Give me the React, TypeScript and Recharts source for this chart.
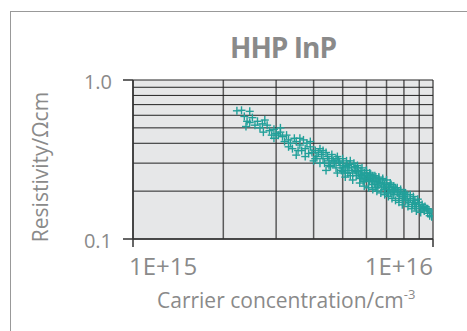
import { ScatterChart, Scatter, XAxis, YAxis, CartesianGrid } from 'recharts';

const title = "HHP InP";
const xLabel = "Carrier concentration/cm";
const yLabel = "Resistivity/Ωcm";

// carrier concentration (x 1e15 cm-3), resistivity (Ωcm)
const measurements: [number, number][] = [
    [2.22, 0.64], [2.30, 0.645], [2.45, 0.635], [2.35, 0.59], [2.40, 0.55], [2.38, 0.51],
    [2.45, 0.54], [2.55, 0.52], [2.65, 0.50], [2.70, 0.53], [2.75, 0.56], [2.80, 0.52],
    [2.72, 0.47], [2.85, 0.48], [2.95, 0.49], [3.00, 0.46], [3.05, 0.45], [3.15, 0.44],
    [3.10, 0.47], [3.25, 0.45], [3.30, 0.42], [3.35, 0.40], [3.45, 0.43], [3.50, 0.41],
    [3.40, 0.37], [3.60, 0.39], [3.65, 0.36], [3.70, 0.42], [3.80, 0.40], [3.75, 0.37],
    [3.90, 0.38], [3.95, 0.35], [4.05, 0.36], [4.10, 0.33], [4.00, 0.31], [4.20, 0.37],
    [4.25, 0.34], [4.30, 0.32], [4.40, 0.35], [4.45, 0.33], [4.50, 0.31], [4.35, 0.30],
    [4.55, 0.29], [4.60, 0.32], [4.70, 0.30], [4.75, 0.28], [4.80, 0.33], [4.85, 0.31],
    [4.90, 0.29], [4.95, 0.27], [5.00, 0.30], [5.05, 0.28], [5.10, 0.26], [5.15, 0.31],
    [5.20, 0.29], [5.25, 0.27], [5.30, 0.25], [5.35, 0.28], [5.40, 0.26], [5.45, 0.30],
    [5.50, 0.27], [5.55, 0.25], [5.60, 0.28], [5.65, 0.26], [5.70, 0.24], [5.75, 0.27],
    [5.80, 0.25], [5.85, 0.23], [5.90, 0.26], [5.95, 0.24], [6.00, 0.27], [6.05, 0.25],
    [6.10, 0.23], [6.15, 0.26], [6.20, 0.24], [6.25, 0.22], [6.30, 0.25], [6.35, 0.235],
    [6.40, 0.22], [6.45, 0.245], [6.50, 0.23], [6.55, 0.215], [6.60, 0.24], [6.70, 0.225],
    [6.75, 0.21], [6.80, 0.235], [6.90, 0.22], [6.95, 0.205], [7.00, 0.225], [7.10, 0.21],
    [7.20, 0.195], [7.25, 0.22], [7.35, 0.205], [7.40, 0.19], [7.50, 0.21], [7.60, 0.195],
    [7.70, 0.18], [7.80, 0.20], [7.90, 0.185], [8.00, 0.195], [8.10, 0.175], [8.20, 0.19],
    [8.30, 0.17], [8.40, 0.18], [8.55, 0.165], [8.70, 0.175], [8.80, 0.16], [8.95, 0.17],
    [9.10, 0.155], [9.20, 0.165], [9.35, 0.15], [9.50, 0.155], [9.60, 0.145], [9.75, 0.14],
    [9.85, 0.148], [9.90, 0.138],
    [4.15, 0.35], [4.65, 0.31], [5.12, 0.285], [5.58, 0.265], [6.08, 0.245], [6.62, 0.228],
    [7.15, 0.212], [7.65, 0.198], [5.28, 0.295], [5.78, 0.255], [6.28, 0.232], [4.88, 0.305],
    [6.85, 0.215], [7.45, 0.20], [8.05, 0.185], [8.60, 0.175], [9.00, 0.165], [9.30, 0.158],
    [4.40, 0.27], [3.50, 0.337], [7.90, 0.164], [8.70, 0.16], [5.90, 0.235], [6.45, 0.21],
    [7.05, 0.195], [5.00, 0.265], [4.55, 0.285], [3.85, 0.345], [3.20, 0.41], [2.90, 0.45],
    [4.20, 0.30], [4.30, 0.36], [4.60, 0.34], [4.80, 0.26], [5.00, 0.32], [5.10, 0.245],
    [5.30, 0.31], [5.40, 0.235], [5.60, 0.29], [5.70, 0.225], [5.80, 0.28], [5.90, 0.215],
    [6.00, 0.26], [6.10, 0.21], [6.20, 0.255], [6.30, 0.205], [6.40, 0.25], [6.50, 0.20],
    [6.60, 0.245], [6.70, 0.195], [6.80, 0.24], [6.90, 0.19], [7.00, 0.235], [7.10, 0.185],
    [7.20, 0.225], [7.30, 0.18], [7.40, 0.215], [7.50, 0.175], [7.60, 0.21], [7.70, 0.17],
    [7.80, 0.205], [7.95, 0.175], [8.10, 0.195], [8.25, 0.16], [8.40, 0.19], [8.50, 0.155],
    [8.60, 0.185], [8.80, 0.15], [8.90, 0.178], [9.10, 0.147], [9.40, 0.16], [9.70, 0.152],
    [3.60, 0.43], [3.75, 0.33], [3.90, 0.41], [4.05, 0.32], [3.30, 0.38], [3.10, 0.50],
    [2.95, 0.43], [2.60, 0.55], [2.50, 0.58], [3.55, 0.36], [4.50, 0.29], [4.75, 0.32],
    [5.20, 0.26], [5.50, 0.285], [5.75, 0.245], [6.15, 0.235], [6.55, 0.225], [6.90, 0.205],
    [7.30, 0.20], [7.75, 0.19], [8.20, 0.175], [8.70, 0.168], [9.20, 0.155], [9.60, 0.155],
];

const xTicks = [1e15, 2e15, 3e15, 4e15, 5e15, 6e15, 7e15, 8e15, 9e15, 1e16];
const yTicks = [0.1, 0.2, 0.3, 0.4, 0.5, 0.6, 0.7, 0.8, 0.9, 1.0];
const xMajor: Record<number, string> = { 1e15: "1E+15", 1e16: "1E+16" };
const yMajor: Record<number, string> = { 0.1: "0.1", 1: "1.0" };

const data = measurements.map(([n, rho]) => ({ n: n * 1e15, rho }));

const textGray = "#8a8a8a";
const teal = "#22a09a";

const XTick = (props: any) => {
    const { x, y, payload } = props;
    const label = xMajor[payload.value];
    if (!label) return null;
    const first = payload.value === 1e15;
    return (
        <g>
            <line x1={x} y1={y} x2={x} y2={y + 8} stroke="#333" strokeWidth={1.5} />
            <text x={first ? x - 4 : x} y={y + 36} textAnchor={first ? "start" : "end"} fill={textGray} fontSize={24}>
                {label}
            </text>
        </g>
    );
};

const YTick = (props: any) => {
    const { x, y, payload } = props;
    const label = yMajor[payload.value];
    if (!label) return null;
    return (
        <g>
            <line x1={x - 10} y1={y} x2={x} y2={y} stroke="#333" strokeWidth={1.5} />
            <text x={x - 21} y={y + 9} textAnchor="end" fill={textGray} fontSize={20}>
                {label}
            </text>
        </g>
    );
};

const Plus = (props: any) => {
    const { cx, cy } = props;
    return (
        <g stroke={teal} strokeWidth={1.4}>
            <line x1={cx - 4} y1={cy} x2={cx + 4} y2={cy} />
            <line x1={cx} y1={cy - 4} x2={cx} y2={cy + 4} />
        </g>
    );
};

export default function App() {
    return (
        <div style={{ position: 'fixed', left: 0, top: 0, width: 467, height: 331, overflow: 'hidden', background: '#fff', fontFamily: '"Open Sans", sans-serif' }}>
            <div style={{ position: 'absolute', left: 10, top: 11, width: 480, height: 340, border: '1.5px solid #999' }} />
            <ScatterChart width={467} height={331} margin={{ top: 80, right: 34, bottom: 62, left: 73 }} style={{ position: 'absolute', left: 0, top: 0 }}>
                <CartesianGrid horizontal={false} stroke="#5a5a5a" strokeWidth={1.5} fill="#e6e7e8" />
                <CartesianGrid vertical={false} stroke="#222" strokeWidth={1} />
                <XAxis
                    dataKey="n"
                    type="number"
                    scale="log"
                    domain={[1e15, 1e16]}
                    ticks={xTicks}
                    allowDataOverflow
                    height={30}
                    axisLine={{ stroke: '#333', strokeWidth: 1.5 }}
                    tickLine={false}
                    tickSize={0}
                    tickMargin={0}
                    tick={<XTick />}
                    interval={0}
                />
                <YAxis
                    dataKey="rho"
                    type="number"
                    scale="log"
                    domain={[0.1, 1]}
                    ticks={yTicks}
                    allowDataOverflow
                    width={60}
                    axisLine={{ stroke: '#333', strokeWidth: 1.5 }}
                    tickLine={false}
                    tickSize={0}
                    tickMargin={0}
                    tick={<YTick />}
                    interval={0}
                />
                <Scatter data={data} shape={<Plus />} isAnimationActive={false} />
            </ScatterChart>
            <div style={{ position: 'absolute', left: 183, width: 200, top: 27, textAlign: 'center', fontSize: 28, fontWeight: 700, color: textGray, letterSpacing: -1, lineHeight: '40px' }}>
                {title}
            </div>
            <div style={{ position: 'absolute', left: 157, top: 286, fontSize: 21, color: textGray, lineHeight: '28px', whiteSpace: 'nowrap' }}>
                {xLabel}<sup style={{ fontSize: 13, verticalAlign: 0, position: 'relative', top: -9 }}>-3</sup>
            </div>
            <div style={{ position: 'absolute', left: 40, top: 167, width: 0, height: 0 }}>
                <div style={{ position: 'absolute', left: -100, top: -14, width: 200, textAlign: 'center', transform: 'rotate(-90deg)', fontSize: 21, color: textGray, lineHeight: '28px', whiteSpace: 'nowrap' }}>
                    {yLabel}
                </div>
            </div>
        </div>
    );
}
